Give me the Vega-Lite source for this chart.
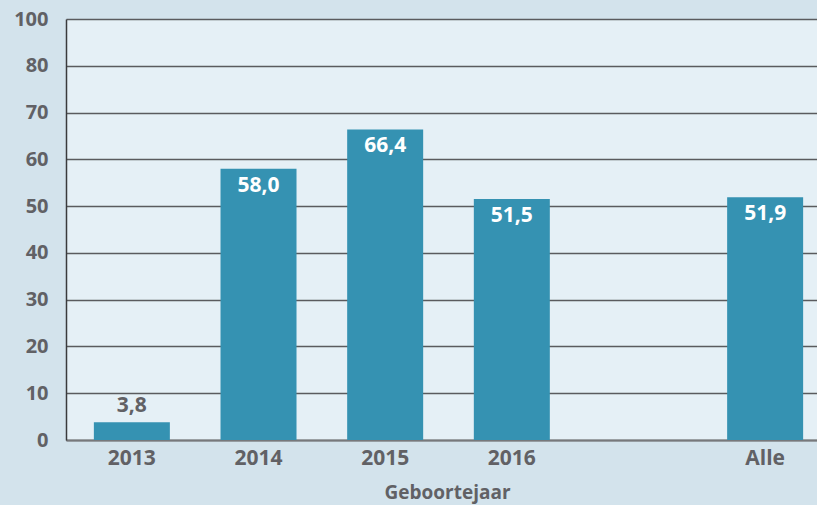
{
  "$schema": "https://vega.github.io/schema/vega-lite/v6.json",
  "width": 765,
  "height": 421,
  "autosize": {"type": "none"},
  "padding": {"left": 66, "top": 19, "right": 0, "bottom": 66},
  "background": "#d3e3ec",
  "config": {
    "view": {"fill": "#e5f0f6", "stroke": null},
    "locale": {"number": {"decimal": ",", "thousands": ".", "grouping": [3], "currency": ["€", ""]}},
    "font": "Open Sans"
  },
  "data": {
    "values": [
      {"jaar": "2013", "pct": 3.8},
      {"jaar": "2014", "pct": 58.0},
      {"jaar": "2015", "pct": 66.4},
      {"jaar": "2016", "pct": 51.5},
      {"jaar": "Alle", "pct": 51.9}
    ]
  },
  "encoding": {
    "x": {
      "field": "jaar", "type": "nominal", "sort": null,
      "scale": {"domain": ["2013", "2014", "2015", "2016", " ", "Alle"], "paddingInner": 0.4, "paddingOuter": 0.22},
      "axis": {
        "title": "Geboortejaar", "labelAngle": 0, "ticks": false,
        "labelFont": "Open Sans", "labelFontWeight": "bold", "labelFontSize": 21, "labelColor": "#616165",
        "labelPadding": 7, "titleFont": "Open Sans", "titleFontWeight": "bold", "titleFontSize": 19,
        "titleColor": "#616165", "titlePadding": 15, "titleX": 381,
        "domainColor": "#77787b", "domainWidth": 2
      }
    },
    "y": {
      "field": "pct", "type": "quantitative",
      "scale": {"domain": [0, 90], "nice": false},
      "axis": {
        "title": null, "values": [0, 10, 20, 30, 40, 50, 60, 70, 80, 90], "ticks": false,
        "labelExpr": "datum.value == 90 ? '100' : datum.label",
        "labelFont": "Open Sans", "labelFontWeight": "bold", "labelFontSize": 20, "labelColor": "#616165",
        "labelPadding": 18, "grid": true, "gridColor": "#5a5b5e", "gridWidth": 1.5,
        "domainColor": "#3a3a3c", "domainWidth": 1.5
      }
    }
  },
  "layer": [
    {"mark": {"type": "bar", "color": "#3592b2"}},
    {
      "transform": [{"filter": "datum.pct >= 10"}],
      "mark": {"type": "text", "baseline": "top", "dy": 6, "color": "white", "fontWeight": "bold", "fontSize": 21, "font": "Open Sans"},
      "encoding": {"text": {"field": "pct", "type": "quantitative", "format": ".1f"}}
    },
    {
      "transform": [{"filter": "datum.pct < 10"}],
      "mark": {"type": "text", "baseline": "bottom", "dy": -6, "color": "#616165", "fontWeight": "bold", "fontSize": 21, "font": "Open Sans"},
      "encoding": {"text": {"field": "pct", "type": "quantitative", "format": ".1f"}}
    }
  ]
}
